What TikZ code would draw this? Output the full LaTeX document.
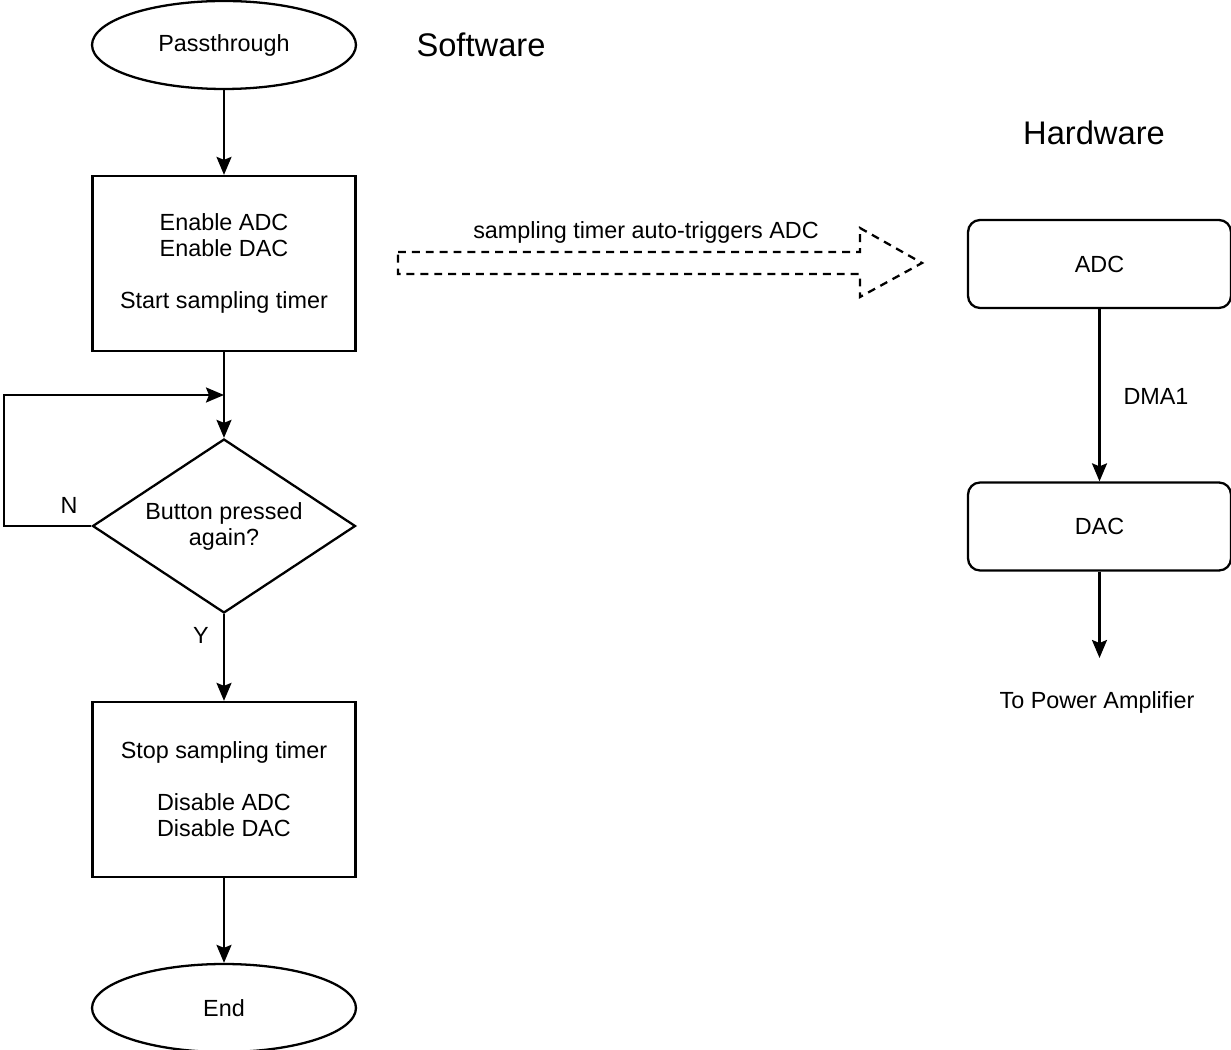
\documentclass[tikz,border=0pt]{standalone}
\usepackage{fontspec}
\setmainfont{Liberation Sans}
\usetikzlibrary{shapes.geometric,arrows.meta}
\tikzset{
  base/.style={draw,line width=1.3pt,align=center,font=\fontsize{13.3}{14.8}\selectfont},
  term/.style={base,ellipse,minimum width=5.28cm,minimum height=1.76cm,inner sep=0pt},
  proc/.style={base,rectangle,minimum width=5.26cm,minimum height=3.5cm},
  decide/.style={base,diamond,aspect=1.51,minimum width=5.26cm,minimum height=3.48cm,inner sep=1pt},
  hwbox/.style={base,rectangle,rounded corners=0.24cm,minimum width=5.26cm,minimum height=1.76cm},
  arr/.style={line width=1.3pt,-{Stealth[length=0.36cm,width=0.3cm,inset=0.06cm]}},
  lbl/.style={font=\fontsize{13.3}{14.8}\selectfont},
  heading/.style={font=\fontsize{18.6}{20}\selectfont}
}
\begin{document}
\begin{tikzpicture}[x=0.02cm,y=-0.02cm]
\useasboundingbox (0,0) rectangle (1231,1050);

\node[term] (start) at (224,45) {Passthrough};
\node[proc] (enable) at (224,263.5) {Enable ADC\\Enable DAC\\[\baselineskip]Start sampling timer};
\node[decide] (pressed) at (224,526) {Button pressed\\again?};
\node[proc] (stop) at (224,789.5) {Stop sampling timer\\[\baselineskip]Disable ADC\\Disable DAC};
\node[term] (end) at (224,1008) {End};

\node[heading] (sw) at (481,45) {Software};
\node[heading] (hw) at (1094,133) {Hardware};

\node[hwbox] (adc) at (1099.5,264) {ADC};
\node[hwbox] (dac) at (1099.5,526.5) {DAC};

\coordinate (join) at (224,395);
\coordinate (out) at (1099.5,658);

\draw[arr] (start) -- (enable);
\draw[arr] (enable) -- (pressed);
\draw[arr] (pressed.west) -- (4,526) |- (join);
\draw[arr] (pressed) -- (stop);
\draw[arr] (stop) -- (end);

\draw[arr] (adc) -- (dac);
\draw[arr] (dac) -- (out);

\node[lbl] (no) at (69,505) {N};
\node[lbl] (yes) at (201,635) {Y};
\node[lbl] (dma) at (1156,396) {DMA1};
\node[lbl] (amp) at (1097,702) {To Power Amplifier};

% dashed block arrow
\draw[line width=1.3pt,dash pattern=on 4.5pt off 3.4pt]
  (398,252) -- (860,252) -- (860,228) -- (922,263) -- (860,297) -- (860,274) -- (398,274) -- cycle;
\node[lbl] (trig) at (646,232) {sampling timer auto-triggers ADC};
\end{tikzpicture}
\end{document}
